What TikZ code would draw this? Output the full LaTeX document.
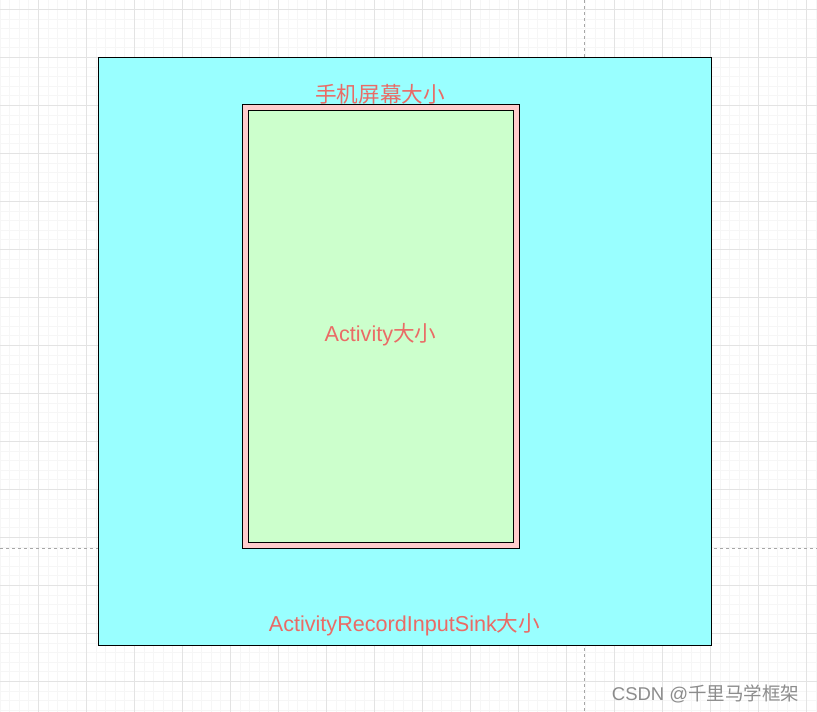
\documentclass[tikz,border=0pt]{standalone}
\usepackage{fontspec}
\setmainfont{Liberation Sans}
\newfontfamily\cjk{Noto Sans CJK SC}
\definecolor{cyanfill}{HTML}{99FFFF}
\definecolor{pinkfill}{HTML}{FFCCCC}
\definecolor{greenfill}{HTML}{CCFFCC}
\definecolor{labelred}{HTML}{EA6B66}
\definecolor{minorgrid}{HTML}{F6F6F6}
\definecolor{majorgrid}{HTML}{E3E3E3}
\tikzset{
  boxnode/.style={draw=black, line width=1pt, inner sep=0pt, rectangle},
  labeltext/.style={text=labelred, inner sep=0pt, font=\fontsize{21.6}{26}\selectfont},
  guide/.style={draw=black!35, line width=0.8pt, dash pattern=on 3pt off 3pt},
}
\begin{document}
\begin{tikzpicture}[x=1pt,y=-1pt]
\useasboundingbox (0,0) rectangle (817,712);
\fill[white] (0,0) rectangle (817,712);
% minor grid
\foreach \i in {0,...,90} {
  \draw[minorgrid, line width=0.7pt] ({-9.7+9.6*\i},0) -- ({-9.7+9.6*\i},712);
  \draw[minorgrid, line width=0.7pt] (0,{-38.7+9.6*\i}) -- (817,{-38.7+9.6*\i});
}
% major grid
\foreach \i in {0,...,17} {
  \draw[majorgrid, line width=1pt] ({38.3+48*\i},0) -- ({38.3+48*\i},712);
  \draw[majorgrid, line width=1pt] (0,{9.3+48*\i}) -- (817,{9.3+48*\i});
}
% guide lines
\coordinate (gt) at (584,0);
\coordinate (gb) at (584,712);
\coordinate (gl) at (0,548.5);
\coordinate (gr) at (817,548.5);
\draw[guide] (gt) -- (gb);
\draw[guide] (gl) -- (gr);
% boxes
\node[boxnode, fill=cyanfill, minimum width=612.5pt, minimum height=588pt] (sink) at (404.75,351.5) {};
\node[boxnode, fill=pinkfill, minimum width=276.3pt, minimum height=444.7pt] (screen) at (380.85,326.35) {};
\node[boxnode, fill=greenfill, minimum width=265pt, minimum height=432.3pt] (activity) at (380.8,326.2) {};
% labels
\node[labeltext] (screenlabel) at (380,94) {\cjk 手机屏幕大小};
\node[labeltext, anchor=base] (activitylabel) at (380.5,341.7) {Activity{\cjk 大小}};
\node[labeltext, anchor=base] (sinklabel) at (404.5,631.7) {ActivityRecordInputSink{\cjk 大小}};
% watermark
\node[text=black!45, inner sep=0pt, anchor=base west, font=\fontsize{18.5}{22}\selectfont] (wm) at (611.7,700) {CSDN @{\cjk 千里马学框架}};
\end{tikzpicture}
\end{document}
